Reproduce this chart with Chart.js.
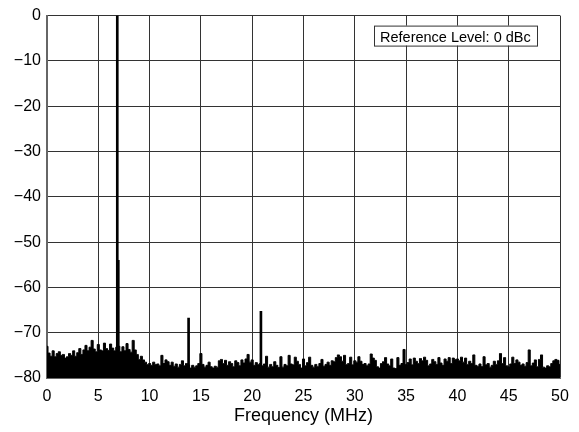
<!DOCTYPE html>
<html>
<head>
<meta charset="utf-8">
<script src="https://cdn.jsdelivr.net/npm/chart.js@4"></script>
<style>
  html, body { margin: 0; padding: 0; background: #ffffff; }
  #wrap { width: 579px; height: 432px; }
</style>
</head>
<body>
<div id="wrap"><canvas id="fftChart" width="579" height="432"></canvas></div>
<script>
// noise floor, one value every 0.2 MHz from 0 to 50 MHz (dBc)
const floorStart = 0;
const floorStep = 0.2;
const floorLevel = [
    -73.0, -74.5, -75.2, -74.0, -75.3,
    -74.6, -74.2, -75.0, -74.8, -75.6,
    -75.3, -74.6, -75.0, -74.0, -75.2,
    -74.4, -73.5, -74.8, -73.8, -72.8,
    -74.0, -73.2, -71.7, -73.6, -74.2,
    -72.6, -73.8, -74.0, -72.3, -73.5,
    -73.9, -72.5, -73.4, -74.0, -73.2,
    -73.0, -74.2, -73.1, -74.0, -72.4,
    -73.7, -74.3, -71.7, -73.8, -74.8,
    -75.9, -75.2, -76.0, -76.5, -77.0,
    -76.8, -77.2, -76.5, -77.0, -76.9,
    -77.3, -75.0, -76.8, -76.0, -76.4,
    -77.2, -76.5, -77.4, -76.9, -77.6,
    -77.0, -76.2, -77.3, -76.8, -77.1,
    -77.8, -77.2, -77.6, -77.3, -76.8,
    -74.6, -77.0, -77.6, -77.2, -76.5,
    -77.5, -77.8, -77.4, -77.6, -76.2,
    -75.9, -76.8, -76.1, -77.2, -76.4,
    -76.8, -77.5, -76.2, -76.6, -77.3,
    -76.0, -76.7, -75.8, -74.8, -76.5,
    -76.0, -77.2, -76.6, -77.0, -76.8,
    -77.3, -76.9, -75.2, -77.6, -77.0,
    -77.5, -76.4, -77.2, -77.7, -75.3,
    -77.6, -77.0, -77.3, -75.0, -76.9,
    -77.1, -75.4, -76.3, -77.0, -77.8,
    -75.8, -77.3, -76.6, -75.4, -77.2,
    -77.6, -77.0, -77.5, -76.8, -75.9,
    -77.4, -77.0, -76.5, -77.2, -76.2,
    -76.4, -75.5, -74.9, -75.3, -76.3,
    -75.0, -77.0, -76.8, -75.4, -77.1,
    -76.2, -76.5, -75.3, -76.3, -77.0,
    -76.8, -77.3, -76.9, -74.7, -75.6,
    -76.1, -77.5, -77.8, -76.8, -76.4,
    -75.5, -76.9, -77.3, -75.8, -77.8,
    -77.9, -75.5, -77.2, -76.8, -73.7,
    -77.0, -76.6, -75.8, -77.1, -75.6,
    -76.3, -76.8, -75.7, -76.2, -75.4,
    -76.1, -77.3, -76.9, -75.9, -76.4,
    -77.0, -75.5, -76.7, -77.2, -75.8,
    -76.3, -75.5, -76.8, -75.6, -75.9,
    -75.8, -76.2, -75.4, -76.5, -75.6,
    -77.0, -76.3, -76.8, -74.9, -77.2,
    -77.4, -76.9, -77.5, -75.3, -77.1,
    -76.8, -77.6, -77.2, -76.3, -77.0,
    -76.2, -74.6, -76.8, -75.5, -77.3,
    -77.5, -76.9, -75.4, -76.8, -76.0,
    -76.5, -77.2, -76.9, -77.4, -76.6,
    -73.8, -77.3, -76.7, -76.0, -77.5,
    -75.9, -74.9, -77.6, -77.8, -77.3,
    -77.5, -76.8, -76.2, -75.9, -76.1,
    -77.0
];

// fundamental and harmonics
const spurFreq = [6.85, 6.95, 13.8, 20.85];
const spurLevel = [0, -54, -66.8, -65.3];

const xTicks = [0, 5, 10, 15, 20, 25, 30, 35, 40, 45, 50];
const yTicks = [-80, -70, -60, -50, -40, -30, -20, -10, 0];
const refLabel = "Reference Level: 0 dBc";

const fontFamily = "'Liberation Sans', Arial, Helvetica, sans-serif";

const floorData = floorLevel.map((v, i) => ({ x: floorStart + i * floorStep, y: v }));
const spurData = spurFreq.map((f, i) => ({ x: f, y: spurLevel[i] }));

const minusFmt = (v) => (v < 0 ? "\u2212" + Math.abs(v) : String(v));

const refBox = {
    id: "refBox",
    afterDraw(chart) {
        const { ctx, chartArea } = chart;
        ctx.save();
        ctx.font = "14.5px " + fontFamily;
        const w = Math.round(ctx.measureText(refLabel).width + 12);
        const right = chartArea.right - 23;
        const left = right - w;
        const top = chartArea.top + 10;
        ctx.fillStyle = "#ffffff";
        ctx.fillRect(left, top, w, 20);
        ctx.strokeStyle = "#333333";
        ctx.lineWidth = 1;
        ctx.strokeRect(Math.round(left) + 0.5, top + 0.5, w, 20);
        ctx.fillStyle = "#000000";
        ctx.textBaseline = "alphabetic";
        ctx.fillText(refLabel, left + 6, top + 16.5);
        ctx.restore();
    }
};

Chart.defaults.font.family = fontFamily;
Chart.defaults.color = "#000000";

new Chart("fftChart", {
    type: "line",
    data: {
        datasets: [
            {
                data: floorData,
                borderColor: "#000000",
                backgroundColor: "#000000",
                borderWidth: 1,
                pointRadius: 0,
                stepped: "middle",
                fill: "start",
                order: 2
            },
            {
                type: "bar",
                data: spurData,
                backgroundColor: "#000000",
                barThickness: 2,
                base: -80,
                order: 1
            }
        ]
    },
    options: {
        responsive: false,
        animation: false,
        events: [],
        layout: { padding: { top: 14, right: 19, left: 0, bottom: 0 } },
        plugins: {
            legend: { display: false },
            tooltip: { enabled: false }
        },
        scales: {
            x: {
                type: "linear",
                min: 0,
                max: 50,
                offset: false,
                afterBuildTicks: (s) => { s.ticks = xTicks.map((v) => ({ value: v })); },
                afterFit: (s) => { s.height = 54; },
                ticks: { font: { size: 16 }, padding: 9, maxRotation: 0 },
                grid: { color: "#333333", lineWidth: 1, drawTicks: false, offset: false },
                border: { color: "#666666", width: 2 },
                title: {
                    display: true,
                    text: "Frequency (MHz)",
                    font: { size: 18 },
                    padding: { top: 0, bottom: 5 }
                }
            },
            y: {
                min: -80,
                max: 0,
                afterBuildTicks: (s) => { s.ticks = yTicks.map((v) => ({ value: v })); },
                afterFit: (s) => { s.width = 47; },
                ticks: { font: { size: 16 }, padding: 6, callback: minusFmt },
                grid: { color: "#333333", lineWidth: 1, drawTicks: false },
                border: { color: "#666666", width: 2 }
            }
        }
    },
    plugins: [refBox]
});
</script>
</body>
</html>
